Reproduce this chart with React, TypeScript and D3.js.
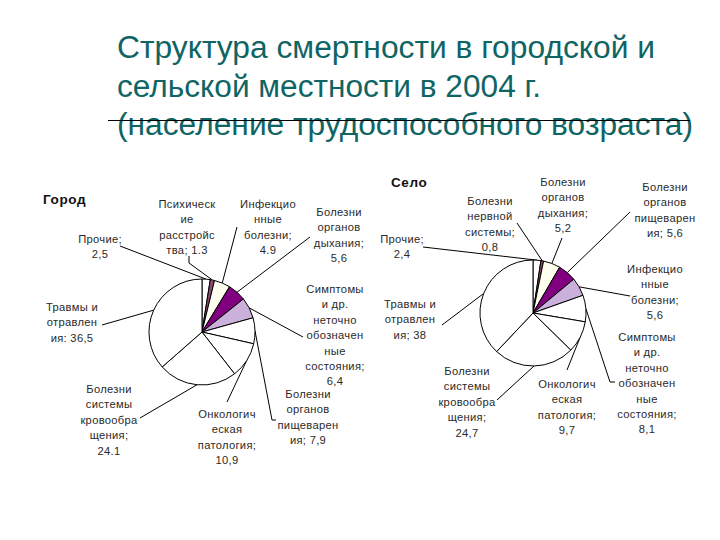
import React from "react";
import * as d3 from "d3";

// ---- Data ----
const titleLines = [
  "Структура смертности в городской и",
  "сельской местности в 2004 г.",
  "(население трудоспособного возраста)",
];

const cityTitle = "Город";
const cityValues = [2.5, 1.3, 4.9, 5.6, 6.4, 7.9, 10.9, 24.1, 36.5];
const cityLabels = [
  ["Прочие;", "2,5"],
  ["Психическ", "ие", "расстройс", "тва; 1.3"],
  ["Инфекцио", "нные", "болезни;", "4.9"],
  ["Болезни", "органов", "дыхания;", "5,6"],
  ["Симптомы", "и др.", "неточно", "обозначен", "ные", "состояния;", "6,4"],
  ["Болезни", "органов", "пищеварен", "ия; 7,9"],
  ["Онкологич", "еская", "патология;", "10,9"],
  ["Болезни", "системы", "кровообра", "щения;", "24.1"],
  ["Травмы и", "отравлен", "ия: 36,5"],
];

const villageTitle = "Село";
const villageValues = [2.4, 0.8, 5.2, 5.6, 5.6, 8.1, 9.7, 24.7, 38];
const villageLabels = [
  ["Прочие;", "2,4"],
  ["Болезни", "нервной", "системы;", "0,8"],
  ["Болезни", "органов", "дыхания;", "5,2"],
  ["Болезни", "органов", "пищеварен", "ия; 5,6"],
  ["Инфекцио", "нные", "болезни;", "5,6"],
  ["Симптомы", "и др.", "неточно", "обозначен", "ные", "состояния;", "8,1"],
  ["Онкологич", "еская", "патология;", "9,7"],
  ["Болезни", "системы", "кровообра", "щения;", "24,7"],
  ["Травмы и", "отравлен", "ия; 38"],
];

const sliceColors = [
  "#ffffff",
  "#8e4a6e",
  "#fffff0",
  "#800080",
  "#ccb0dc",
  "#ffffff",
  "#ffffff",
  "#ffffff",
  "#ffffff",
];

// ---- Layout ----
const W = 720;
const H = 540;
const R = 53;
const LINE_H = 15.4;
const labelFont = "'Liberation Sans', Arial, sans-serif";

type Layout = {
  cx: number;
  cy: number;
  titleX: number;
  titleY: number;
  labelPos: [number, number][];
  leader: [number, number][][];
};

const cityLayout: Layout = {
  cx: 202,
  cy: 332,
  titleX: 43,
  titleY: 200,
  labelPos: [
    [100, 240],
    [187, 205],
    [268, 205],
    [339, 213],
    [335, 290],
    [308, 395],
    [227, 415],
    [109, 390],
    [72, 308],
  ],
  leader: [
    [[120, 246]],
    [[189, 263], [189, 256]],
    [[237, 227]],
    [[310, 237]],
    [[303, 337]],
    [[272, 420], [276, 420]],
    [[227, 402]],
    [[140, 418]],
    [[102, 325]],
  ],
};

const villageLayout: Layout = {
  cx: 533,
  cy: 313,
  titleX: 391,
  titleY: 183,
  labelPos: [
    [402, 240],
    [490, 202],
    [563, 183],
    [665, 188],
    [655, 270],
    [647, 338],
    [567, 385],
    [467, 372],
    [410, 305],
  ],
  leader: [
    [[423, 247]],
    [[517, 223]],
    [[562, 238]],
    [[630, 212]],
    [[630, 296]],
    [[610, 382], [615, 382]],
    [[567, 370]],
    [[497, 400]],
    [[442, 325]],
  ],
};

function Pie({
  values,
  labels,
  title,
  layout,
}: {
  values: number[];
  labels: string[][];
  title: string;
  layout: Layout;
}) {
  const pie = d3.pie<number>().sort(null).value((d) => d)(values);
  const arc = d3.arc<d3.PieArcDatum<number>>().innerRadius(0).outerRadius(R);
  const line = d3.line();
  return (
    <g>
      <text
        x={layout.titleX}
        y={layout.titleY}
        dominantBaseline="middle"
        fontFamily={labelFont}
        fontWeight="bold"
        fontSize={13.5}
        letterSpacing={0.6}
        fill="#111"
      >
        {title}
      </text>
      {pie.map((p, i) => {
        const mid = (p.startAngle + p.endAngle) / 2;
        const edge: [number, number] = [
          layout.cx + R * Math.sin(mid),
          layout.cy - R * Math.cos(mid),
        ];
        const pts: [number, number][] = [edge, ...layout.leader[i]];
        return (
          <path
            key={"l" + i}
            d={line(pts) || ""}
            fill="none"
            stroke="#000"
            strokeWidth={1}
          />
        );
      })}
      <g transform={`translate(${layout.cx},${layout.cy})`}>
        {pie.map((p, i) => (
          <path
            key={"s" + i}
            d={arc(p) || ""}
            fill={sliceColors[i]}
            stroke="#000"
            strokeWidth={1}
            strokeLinejoin="round"
          />
        ))}
      </g>
      {labels.map((lines, i) => {
        const [x, y] = layout.labelPos[i];
        return (
          <text
            key={"t" + i}
            x={x}
            y={y}
            textAnchor="middle"
            fontFamily={labelFont}
            fontSize={11.2}
            letterSpacing={0.3}
            fill="#2a2a2a"
          >
            {lines.map((ln, j) => (
              <tspan key={j} x={x} y={y + j * LINE_H} dominantBaseline="middle">
                {ln}
              </tspan>
            ))}
          </text>
        );
      })}
    </g>
  );
}

const titleX = 117;
const titleBaselines = [58, 97, 135];
const titleWidths = [538, 424, 576];

export default function App() {
  return (
    <svg
      width={W}
      height={H}
      viewBox={`0 0 ${W} ${H}`}
      style={{ position: "absolute", left: 0, top: 0, display: "block", background: "#fff" }}
    >
      <rect x={0} y={0} width={W} height={H} fill="#fff" />
      {titleLines.map((t, i) => (
        <text
          key={i}
          x={titleX}
          y={titleBaselines[i]}
          fontFamily={labelFont}
          fontSize={31}
          fill="#0f6464"
          textLength={titleWidths[i]}
          lengthAdjust="spacingAndGlyphs"
        >
          {t}
        </text>
      ))}
      <line x1={108} x2={690} y1={120.5} y2={120.5} stroke="#000" strokeWidth={1} />
      <Pie values={cityValues} labels={cityLabels} title={cityTitle} layout={cityLayout} />
      <Pie values={villageValues} labels={villageLabels} title={villageTitle} layout={villageLayout} />
    </svg>
  );
}
